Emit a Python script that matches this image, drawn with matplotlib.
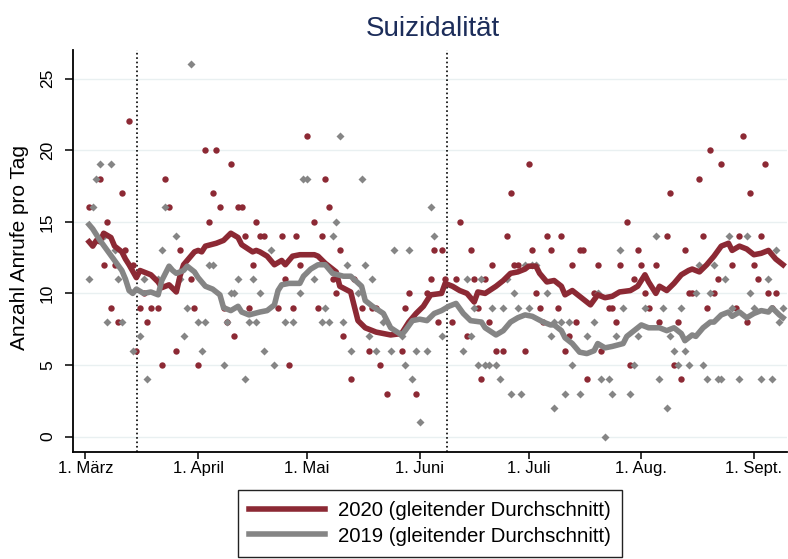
import numpy as np
import matplotlib
matplotlib.use("Agg")
import matplotlib.pyplot as plt

plt.rcParams['font.family'] = ['Liberation Sans', 'DejaVu Sans']

# tage ab 1. März (0 = 1. März)
tick_days = [0, 31, 61, 92, 122, 153, 184]
tick_labels = ['1. März', '1. April', '1. Mai', '1. Juni', '1. Juli', '1. Aug.', '1. Sept.']
event_days = [14.3, 99.4]

# 2020: anrufe pro tag (punkte)
days_2020 = [1, 4, 5, 6, 7, 8, 9, 10, 11, 12, 13, 14, 15, 16, 17, 18, 20, 21, 22, 23,
             25, 26, 29, 30, 31, 33, 34, 35, 36, 37, 38, 39, 40, 41, 42, 43, 44, 45, 46, 47,
             48, 49, 53, 54, 55, 56, 57, 58, 59, 61, 63, 64, 65, 66, 67, 68, 69, 70, 71, 73,
             74, 76, 78, 79, 80, 81, 83, 87, 88, 89, 91, 94, 95, 96, 97, 98, 99, 101, 102, 103,
             105, 106, 107, 108, 109, 110, 111, 112, 113, 115, 116, 117, 118, 119, 121, 122, 123, 124, 125, 126,
             127, 128, 130, 131, 132, 133, 134, 135, 136, 137, 138, 140, 141, 142, 144, 145, 146, 147, 149, 150,
             151, 152, 153, 154, 155, 157, 158, 160, 161, 162, 163, 164, 165, 166, 167, 169, 170, 171, 172, 173,
             174, 175, 178, 179, 180, 181, 182, 183, 184, 185, 186, 187, 188, 189, 190]
vals_2020 = [16, 18, 12, 15, 9, 12, 8, 17, 13, 22, 12, 6, 9, 10, 8, 9, 9, 5, 18, 16,
             6, 13, 11, 9, 5, 20, 15, 17, 20, 16, 9, 8, 19, 7, 16, 16, 14, 9, 12, 15,
             14, 14, 9, 14, 11, 5, 9, 14, 12, 21, 15, 9, 14, 18, 16, 11, 10, 13, 7, 4,
             11, 9, 6, 9, 9, 5, 3, 6, 9, 10, 3, 10, 11, 13, 8, 13, 11, 8, 11, 15,
             7, 13, 11, 9, 4, 11, 8, 12, 6, 6, 14, 17, 12, 12, 6, 19, 13, 10, 9, 8,
             14, 13, 9, 14, 6, 7, 12, 8, 13, 13, 4, 10, 12, 6, 9, 9, 8, 12, 15, 5,
             11, 13, 12, 10, 9, 12, 8, 14, 17, 5, 8, 4, 13, 10, 10, 18, 14, 9, 20, 10,
             11, 19, 12, 9, 14, 21, 8, 17, 12, 11, 14, 19, 10, 9, 10]

# 2019: anrufe pro tag (punkte)
days_2019 = [1, 2, 3, 4, 5, 6, 7, 8, 9, 10, 13, 15, 16, 17, 20, 21, 22, 25, 26, 27,
             28, 29, 31, 32, 33, 34, 35, 38, 39, 40, 41, 42, 44, 45, 46, 47, 48, 49, 51, 52,
             55, 57, 59, 60, 61, 63, 65, 66, 67, 68, 69, 70, 71, 72, 73, 75, 76, 77, 78, 79,
             80, 82, 84, 85, 87, 88, 89, 90, 91, 92, 94, 95, 96, 98, 104, 105, 106, 107, 108, 109,
             110, 111, 112, 113, 114, 115, 116, 117, 118, 119, 120, 121, 122, 123, 124, 127, 128, 129, 129, 131,
             132, 133, 134, 136, 138, 140, 141, 142, 143, 144, 145, 146, 147, 148, 150, 151, 152, 154, 157, 158,
             159, 160, 161, 162, 163, 164, 165, 166, 168, 169, 170, 171, 172, 173, 174, 175, 176, 177, 178, 180,
             182, 183, 184, 186, 188, 189, 190, 191, 192]
vals_2019 = [11, 16, 18, 19, 14, 8, 19, 13, 11, 8, 6, 7, 11, 4, 11, 13, 16, 14, 11, 7,
             9, 26, 8, 6, 8, 12, 12, 5, 8, 10, 10, 11, 4, 8, 11, 8, 10, 6, 13, 5,
             8, 8, 10, 18, 18, 11, 8, 9, 8, 14, 15, 21, 8, 12, 6, 10, 18, 12, 7, 11,
             6, 8, 6, 13, 7, 5, 13, 4, 6, 1, 6, 16, 14, 7, 6, 11, 7, 9, 5, 11,
             5, 5, 9, 5, 4, 9, 11, 3, 10, 9, 3, 12, 9, 12, 12, 10, 7, 8, 2, 8,
             3, 8, 5, 3, 7, 8, 10, 4, 0, 4, 3, 7, 13, 9, 3, 5, 7, 9, 14, 4,
             9, 2, 7, 6, 5, 9, 6, 5, 10, 12, 5, 4, 10, 12, 4, 4, 11, 14, 9, 4,
             14, 10, 9, 4, 11, 4, 13, 8, 9]

# gleitender durchschnitt 2020
ma_days_2020 = [1, 2, 3, 4, 5, 7, 8, 10, 11, 12, 14, 15, 16, 18, 20, 21, 23, 25, 26, 27,
                29, 30, 31, 32, 33, 36, 38, 40, 42, 43, 46, 47, 48, 50, 52, 54, 55, 57, 59, 63,
                64, 66, 69, 70, 73, 75, 77, 80, 82, 84, 87, 89, 91, 93, 95, 98, 99, 101, 103, 105,
                107, 108, 110, 113, 115, 117, 119, 121, 122, 124, 125, 127, 129, 131, 132, 134, 136, 139, 141, 143,
                145, 147, 150, 152, 154, 155, 157, 158, 160, 162, 164, 166, 167, 169, 171, 173, 175, 177, 178, 180,
                182, 184, 186, 188, 189, 190, 192]
ma_2020 = [13.6, 13.3, 13.7, 13.6, 14.2, 13.9, 13.3, 12.9, 12.4, 12.0, 11.1, 11.6, 11.5, 11.3, 10.8, 10.4, 10.6, 10.1, 11.2, 12.0,
           12.6, 12.9, 13.0, 12.9, 13.3, 13.5, 13.7, 14.2, 13.9, 13.4, 12.9, 13.0, 12.9, 12.6, 12.0, 12.3, 12.0, 12.6, 12.7, 12.7,
           12.6, 12.1, 11.5, 10.5, 10.1, 8.1, 7.6, 7.3, 7.2, 7.1, 7.2, 8.0, 8.6, 9.1, 9.9, 10.0, 10.7, 10.5, 10.2, 10.0,
           9.4, 10.1, 10.0, 10.5, 10.9, 11.4, 11.5, 11.7, 11.9, 11.9, 11.4, 10.8, 10.9, 10.5, 9.9, 10.2, 9.8, 9.2, 9.9, 9.7,
           9.8, 10.1, 10.2, 10.5, 11.3, 10.8, 10.0, 10.5, 10.2, 10.7, 11.3, 11.6, 11.7, 11.5, 12.0, 12.6, 13.3, 13.5, 13.0, 13.3,
           13.1, 12.7, 12.8, 13.0, 12.7, 12.4, 12.0]

# gleitender durchschnitt 2019
ma_days_2019 = [1, 2, 4, 6, 8, 10, 11, 12, 13, 14, 16, 18, 20, 21, 23, 24, 25, 27, 28, 30,
                31, 33, 35, 37, 38, 40, 42, 43, 45, 48, 50, 52, 53, 54, 56, 59, 60, 62, 64, 66,
                68, 71, 73, 76, 77, 79, 82, 84, 87, 88, 90, 92, 94, 96, 98, 100, 102, 104, 106, 109,
                110, 113, 115, 117, 119, 121, 123, 126, 128, 129, 131, 132, 134, 136, 138, 140, 141, 143, 145, 148,
                149, 151, 153, 155, 158, 160, 162, 164, 165, 167, 168, 170, 172, 173, 175, 177, 178, 180, 182, 184,
                186, 188, 189, 191, 192]
ma_2019 = [14.8, 14.5, 13.7, 13.0, 12.3, 11.6, 11.0, 10.2, 10.0, 10.3, 10.0, 10.1, 9.9, 10.9, 11.9, 11.6, 11.4, 11.6, 11.9, 11.5,
           11.1, 10.5, 10.3, 9.9, 9.0, 8.8, 9.1, 8.7, 8.5, 8.7, 8.8, 9.2, 10.2, 10.6, 10.7, 10.7, 11.2, 11.7, 12.0, 12.0,
           11.4, 11.2, 11.2, 10.5, 9.5, 9.1, 8.6, 7.6, 7.1, 7.4, 8.1, 8.2, 8.1, 8.6, 8.8, 9.1, 9.3, 8.6, 8.1, 8.0,
           7.6, 7.1, 7.4, 8.0, 8.3, 8.5, 8.4, 8.0, 7.8, 7.8, 7.4, 6.9, 6.5, 5.9, 5.8, 6.0, 6.5, 6.2, 6.3, 6.5,
           7.0, 7.4, 7.8, 7.6, 7.6, 7.4, 7.6, 7.2, 6.7, 7.1, 7.0, 7.6, 8.0, 8.0, 8.5, 8.7, 8.4, 8.7, 8.3, 8.6,
           8.8, 8.7, 9.0, 8.5, 8.3]

red = '#8c2934'
grey = '#858585'

fig = plt.figure(figsize=(7.88, 5.59), dpi=100)
ax = fig.add_axes([73 / 788, 1 - 452 / 559, 714 / 788, 402 / 559])

ax.set_xlim(-3.44, 193.1)
ax.set_ylim(-1.07, 26.99)

for y in range(0, 26, 5):
    ax.axhline(y, color='#e9f0f1', lw=1.0, zorder=0)
for d in event_days:
    ax.axvline(d, color='black', ls=':', lw=1.2, zorder=1)

ax.plot(days_2020, vals_2020, 'o', ms=4.6, color=red, mec='none', zorder=2)
ax.plot(days_2019, vals_2019, 'D', ms=3.7, color=grey, mec='none', zorder=2)
l20, = ax.plot(ma_days_2020, ma_2020, color=red, lw=4.0, zorder=3,
               label='2020 (gleitender Durchschnitt)', solid_joinstyle='round')
l19, = ax.plot(ma_days_2019, ma_2019, color=grey, lw=4.0, zorder=4,
               label='2019 (gleitender Durchschnitt)', solid_joinstyle='round')

ax.set_xticks(tick_days)
ax.set_xticklabels(tick_labels, fontsize=12)
ax.set_yticks(range(0, 26, 5))
ax.set_yticklabels([str(v) for v in range(0, 26, 5)], fontsize=12.5, rotation=90, va='center')
ax.tick_params(axis='x', length=5, width=1.1, pad=1.5)
ax.tick_params(axis='y', length=6, width=1.1, pad=7)

for s in ['top', 'right']:
    ax.spines[s].set_visible(False)
for s in ['left', 'bottom']:
    ax.spines[s].set_linewidth(1.3)

fig.text(20 / 788, 1 - 248 / 559, 'Anzahl Anrufe pro Tag', rotation=90,
         ha='center', va='center', fontsize=15)
fig.text(433 / 788, 1 - 29 / 559, 'Suizidalität', ha='center', va='center',
         fontsize=20, color='#1c2d5a')

leg = fig.legend(handles=[l20, l19], loc='upper left',
                 bbox_to_anchor=(238 / 788, 1 - 490 / 559), fontsize=14.7,
                 handlelength=3.7, handletextpad=0.64, labelspacing=0.31,
                 borderpad=0.55, borderaxespad=0, fancybox=False, framealpha=1)
leg.get_frame().set_edgecolor('#222222')
leg.get_frame().set_linewidth(1.0)

fig.savefig('out.png', dpi=100)
